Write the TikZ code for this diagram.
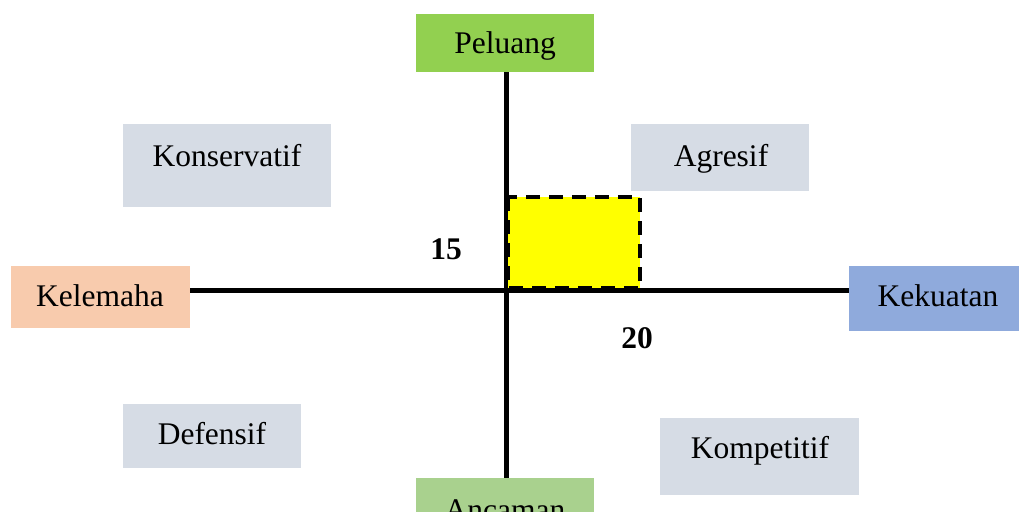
\documentclass[tikz,border=0pt]{standalone}
\usepackage{fontspec}
\setmainfont{Liberation Serif}
\definecolor{pureyellow}{RGB}{255,255,0}
\begin{document}
\begin{tikzpicture}[x=1pt,y=-1pt,
  lbl/.style={font=\fontsize{31.5}{38}\selectfont, inner sep=0pt, anchor=base},
  axis/.style={line width=5pt, black}]
\useasboundingbox (0,0) rectangle (1019,511);
% boxes
\fill[fill={rgb,255:red,146;green,208;blue,80}] (416,14) rectangle (594,72);
\node[lbl] (pel) at (505,53) {Peluang};
\coordinate (pelb) at (506,72);
\fill[fill={rgb,255:red,169;green,209;blue,142}] (416,478) rectangle (594,530);
\node[lbl] (anc) at (505,520) {Ancaman};
\coordinate (anct) at (506,478);
\fill[fill={rgb,255:red,248;green,203;blue,173}] (11,266) rectangle (190,328);
\node[lbl] (kel) at (100,306) {Kelemaha};
\coordinate (kelr) at (190,290);
\fill[fill={rgb,255:red,143;green,170;blue,220}] (849,266) rectangle (1019,331);
\node[lbl] (kek) at (938,306) {Kekuatan};
\coordinate (kekl) at (849,290);
\fill[fill={rgb,255:red,214;green,220;blue,229}] (123,124) rectangle (331,207);
\node[lbl] (kon) at (227,166) {Konservatif};
\fill[fill={rgb,255:red,214;green,220;blue,229}] (631,124) rectangle (809,191);
\node[lbl] (agr) at (721,166) {Agresif};
\fill[fill={rgb,255:red,214;green,220;blue,229}] (123,404) rectangle (301,468);
\node[lbl] (def) at (212,444) {Defensif};
\fill[fill={rgb,255:red,214;green,220;blue,229}] (660,418) rectangle (859,495);
\node[lbl] (kom) at (760,458) {Kompetitif};
% axes
\draw[axis] (pelb) -- (anct);
\draw[axis] (kelr) -- (kekl);
% yellow rect
\draw[fill=pureyellow, line width=3.5pt, dash pattern=on 14pt off 9pt] (508,197) rectangle (640,288);
% labels
\node[lbl, font=\fontsize{31.5}{38}\selectfont\bfseries] (n15) at (446,259) {15};
\node[lbl, font=\fontsize{31.5}{38}\selectfont\bfseries] (n20) at (637,348) {20};
\end{tikzpicture}
\end{document}
